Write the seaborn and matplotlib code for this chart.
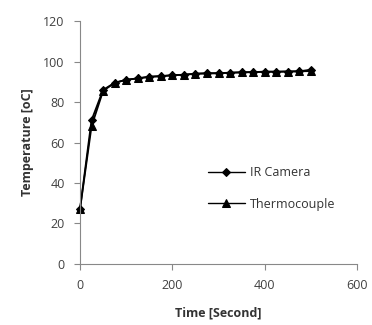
import matplotlib
matplotlib.use("Agg")
import matplotlib.pyplot as plt
import seaborn as sns
import pandas as pd

time = [0, 25, 50, 75, 100, 125, 150, 175, 200, 225, 250, 275, 300, 325, 350, 375, 400, 425, 450, 475, 500]
ir_camera = [27, 71, 86, 89.5, 91, 91.7, 92.5, 92.8, 93.3, 93.5, 94, 94.2, 94.3, 94.5, 94.7, 94.8, 95, 95, 95.1, 95.2, 96]
thermocouple = [27, 68, 85.5, 89.5, 91, 91.7, 92.5, 92.8, 93.2, 93.5, 94, 94.2, 94.2, 94.5, 94.7, 94.8, 95, 95, 95.1, 95.2, 95.3]
series_names = ["IR Camera", "Thermocouple"]

df = pd.DataFrame({
    "Time": time * 2,
    "Temp": ir_camera + thermocouple,
    "Series": [series_names[0]] * len(time) + [series_names[1]] * len(time),
})

sns.set_style("white")
plt.rcParams['font.family'] = ['Open Sans', 'DejaVu Sans']

fig = plt.figure(figsize=(3.72, 3.25), dpi=100)
ax = fig.add_axes([0.215, 0.188, 0.745, 0.747])

sns.lineplot(data=df, x="Time", y="Temp", hue="Series", style="Series",
             markers={"IR Camera": "D", "Thermocouple": "^"}, dashes=False,
             palette={"IR Camera": "black", "Thermocouple": "black"},
             markersize=5.5, linewidth=1.3, markeredgecolor="black", ax=ax, legend=True)
for line in ax.lines:
    line.set_clip_on(False)
    if line.get_marker() == "D":
        line.set_markersize(3.8)

ax.set_xlim(0, 600)
ax.set_ylim(0, 120)
ax.set_xticks([0, 200, 400, 600])
ax.set_yticks([0, 20, 40, 60, 80, 100, 120])
ax.tick_params(axis="both", direction="out", length=4, width=0.8, color="#888888",
               labelsize=9, labelcolor="#404040", left=True, bottom=True, pad=7)
for s in ["top", "right"]:
    ax.spines[s].set_visible(False)
for s in ["left", "bottom"]:
    ax.spines[s].set_color("#888888")
    ax.spines[s].set_linewidth(0.8)
ax.set_xlabel("Time [Second]", fontsize=9, fontweight="bold", color="#333333", labelpad=10)
ax.set_ylabel("Temperature [oC]", fontsize=9, fontweight="bold", color="#333333", labelpad=7)

leg = ax.legend(loc="upper left", bbox_to_anchor=(0.42, 0.45), frameon=False,
                fontsize=9, handlelength=3.0, labelspacing=1.5, handletextpad=0.4)
for line in leg.get_lines():
    line.set_linewidth(1.0)
for t in leg.get_texts():
    t.set_color("#333333")

fig.savefig("out.png", dpi=100)
